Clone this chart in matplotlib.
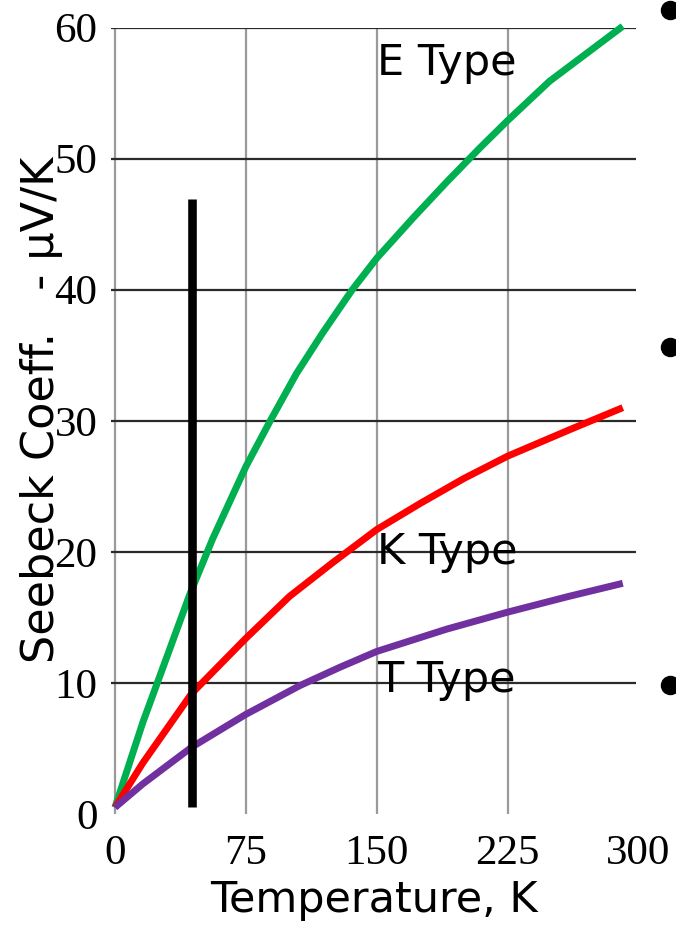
import matplotlib
matplotlib.use("Agg")
import matplotlib.pyplot as plt
from matplotlib.lines import Line2D

# Seebeck coefficient (-uV/K) vs temperature (K) for three thermocouple types
temp_e = [0, 16, 43, 56, 75, 89, 104, 119, 136, 150, 171, 190, 209, 225, 249, 270, 291]
seebeck_e = [0.5, 7.0, 16.8, 21.0, 26.5, 30.0, 33.6, 36.7, 40.0, 42.4, 45.5, 48.2, 50.8, 52.9, 55.9, 58.0, 60.1]

temp_k = [0, 16, 44, 75, 100, 125, 150, 175, 200, 225, 262, 291]
seebeck_k = [0.5, 3.9, 9.2, 13.4, 16.6, 19.2, 21.7, 23.7, 25.6, 27.3, 29.4, 31.0]

temp_t = [0, 16, 44, 75, 106, 129, 150, 190, 225, 260, 291]
seebeck_t = [0.5, 2.3, 5.1, 7.6, 9.8, 11.2, 12.4, 14.1, 15.4, 16.6, 17.6]

series_labels = ["E Type", "K Type", "T Type"]
label_y = [56.4, 19.1, 9.3]
label_x = 150

marker_temp = 44
marker_range = [0.5, 46.9]

x_ticks = [0, 75, 150, 225, 300]
y_ticks = [0, 10, 20, 30, 40, 50, 60]

fig = plt.figure(figsize=(6.76, 9.27), dpi=100)
ax = fig.add_axes([0.1649, 0.1219, 0.7796, 0.8484])
ax.set_xlim(-2, 300)
ax.set_ylim(0, 60)
for s in ax.spines.values():
    s.set_visible(False)

# grid drawn explicitly: light vertical lines, dark horizontal lines
ax.vlines(x_ticks[:-1], 0, 60, colors="#9a9a9a", linewidth=1.6, zorder=1)
ax.hlines(y_ticks[1:], -2, 298.5, colors="#2a2a2a", linewidth=1.6, zorder=1)

line_kw = dict(linewidth=5.0, solid_capstyle="butt", solid_joinstyle="round", zorder=3, clip_on=False)
ax.plot(temp_e, seebeck_e, color="#00B050", **line_kw)
ax.plot(temp_k, seebeck_k, color="#FF0000", **line_kw)
ax.plot(temp_t, seebeck_t, color="#7030A0", **line_kw)

ax.plot([marker_temp, marker_temp], marker_range, color="black", linewidth=6.2,
        solid_capstyle="butt", zorder=4, clip_on=False)

for lab, ly in zip(series_labels, label_y):
    ax.text(label_x, ly, lab, fontsize=31, family="DejaVu Sans", ha="left", va="baseline", zorder=5)

ax.set_xticks(x_ticks)
ax.set_yticks(y_ticks)
ax.set_xticklabels([str(v) for v in x_ticks], family="Liberation Serif", fontsize=31)
ax.set_yticklabels([str(v) for v in y_ticks], family="Liberation Serif", fontsize=31)
ax.tick_params(axis="x", length=0, pad=15)
ax.tick_params(axis="y", length=0, pad=10)

fig.text(374 / 676, (927 - 912) / 927, "Temperature, K", fontsize=31,
         family="DejaVu Sans", ha="center", va="baseline")
fig.text(42 / 676, (927 - 410) / 927, "Seebeck Coeff.   - \u03bcV/K", fontsize=32,
         family="DejaVu Sans", rotation=90, ha="center", va="center")

# slide bullets along the right edge
for by in [10, 347, 685]:
    fig.add_artist(Line2D([670 / 676], [(927 - by) / 927], marker="o", markersize=13,
                          color="black", linestyle="none", transform=fig.transFigure))

fig.savefig("out.png", dpi=100)
